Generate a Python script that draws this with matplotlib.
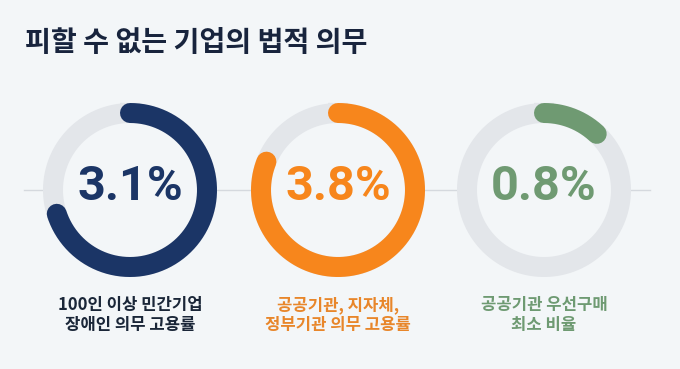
import numpy as np
import matplotlib
matplotlib.use("Agg")
import matplotlib.pyplot as plt
from matplotlib.patches import Circle

plt.rcParams['font.family'] = ['Noto Sans CJK KR', 'DejaVu Sans']

title = "피할 수 없는 기업의 법적 의무"
values = ["3.1%", "3.8%", "0.8%"]
arc_share = [0.70, 0.81, 0.12]  # share of the ring filled
labels = ["100인 이상 민간기업\n장애인 의무 고용률",
          "공공기관, 지자체,\n정부기관 의무 고용률",
          "공공기관 우선구매\n최소 비율"]
colors = ["#1b3566", "#f7861c", "#6f9a72"]
label_colors = ["#1a2638", "#e8862a", "#6e9a72"]

BG = "#f3f6f8"
W, H = 680, 369
fig = plt.figure(figsize=(W / 100, H / 100), dpi=100, facecolor=BG)
ax = fig.add_axes([0, 0, 1, 1])
ax.set_xlim(0, W)
ax.set_ylim(H, 0)
ax.set_aspect('equal')
ax.axis('off')
ax.set_facecolor(BG)

centers_x = [130, 338, 544]
cy = 190
r_out = 87
ring_w = 20
r_mid = r_out - ring_w / 2
px2pt = 72 / 100

# connecting line
ax.plot([24, 650], [cy, cy], color="#d5d9de", lw=1.0, zorder=0)

for cx, val, share, lab, col, lcol in zip(centers_x, values, arc_share, labels, colors, label_colors):
    ax.add_patch(Circle((cx, cy), r_out, facecolor=BG, edgecolor='none', zorder=1))
    t = np.linspace(0, 2 * np.pi, 400)
    ax.plot(cx + r_mid * np.sin(t), cy - r_mid * np.cos(t), color="#e3e6ea",
            lw=ring_w * px2pt, zorder=2)
    t = np.linspace(0, 2 * np.pi * share, 400)
    ax.plot(cx + r_mid * np.sin(t), cy - r_mid * np.cos(t), color=col,
            lw=ring_w * px2pt, solid_capstyle='round', zorder=3)
    ax.text(cx, cy - 3, val, ha='center', va='center', fontsize=35,
            fontweight='bold', color=col, family=['Roboto', 'DejaVu Sans'], zorder=4)
    ax.text(cx, 315, lab, ha='center', va='center', fontsize=12,
            fontweight='bold', color=lcol, linespacing=1.12, zorder=4)

ax.text(25, 43, title, ha='left', va='center', fontsize=20.3, fontweight='bold',
        color="#18243d")

fig.savefig("out.png", dpi=100, facecolor=BG)
